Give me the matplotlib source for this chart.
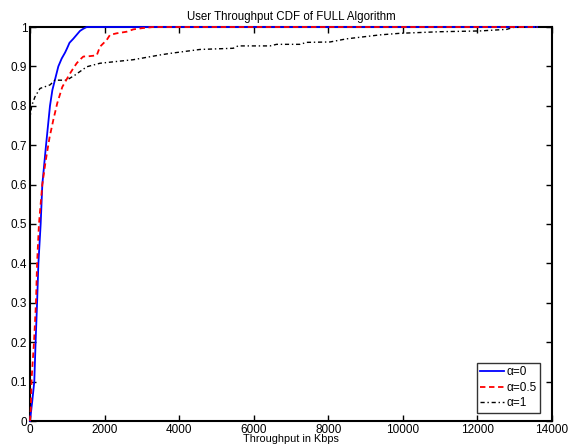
import matplotlib
matplotlib.use("Agg")
import matplotlib.pyplot as plt

plt.rcParams['font.family'] = ['Liberation Sans', 'DejaVu Sans']

# alpha = 0
x0 = [0, 60, 115, 150, 190, 225, 286, 330, 430, 536, 600, 680, 760, 850, 940, 990, 1060, 1160, 1250, 1340, 1420, 1520, 13600]
y0 = [0, 0.05, 0.10, 0.20, 0.30, 0.40, 0.50, 0.60, 0.70, 0.80, 0.84, 0.87, 0.90, 0.92, 0.935, 0.945, 0.96, 0.97, 0.98, 0.99, 0.995, 1.0, 1.0]

# alpha = 0.5
x05 = [0, 20, 45, 107, 160, 190, 240, 330, 420, 525, 625, 732, 867, 1000, 1073, 1160, 1252, 1350, 1430, 1600, 1790, 1877, 2057, 2146, 2325, 2593, 2771, 3000, 3300, 13600]
y05 = [0, 0.03, 0.11, 0.20, 0.30, 0.40, 0.50, 0.60, 0.66, 0.72, 0.764, 0.807, 0.848, 0.87, 0.882, 0.895, 0.908, 0.918, 0.925, 0.926, 0.928, 0.95, 0.967, 0.98, 0.984, 0.988, 0.994, 0.997, 1.0, 1.0]

# alpha = 1
x1 = [0, 15, 45, 134, 268, 536, 670, 983, 1207, 1520, 1877, 2771, 3486, 3754, 4559, 5450, 5580, 6436, 6615, 7240, 7420, 8046, 8493, 9387, 9923, 10996, 12069, 12785, 12964, 13600]
y1 = [0.76, 0.78, 0.80, 0.823, 0.844, 0.853, 0.865, 0.865, 0.878, 0.899, 0.908, 0.917, 0.929, 0.933, 0.943, 0.946, 0.952, 0.952, 0.956, 0.956, 0.961, 0.962, 0.970, 0.980, 0.984, 0.988, 0.990, 0.994, 0.999, 1.0]

labels = ['α=0', 'α=0.5', 'α=1']
xticks = [0, 2000, 4000, 6000, 8000, 10000, 12000, 14000]
yticks = [0, 0.1, 0.2, 0.3, 0.4, 0.5, 0.6, 0.7, 0.8, 0.9, 1]
ytick_labels = ['0', '0.1', '0.2', '0.3', '0.4', '0.5', '0.6', '0.7', '0.8', '0.9', '1']

fig = plt.figure(figsize=(5.72, 4.46), dpi=100)
ax = fig.add_axes([30/572, 25/446, 522/572, 394/446])

ax.plot(x0, y0, '-', color='#0000ff', lw=1.3, label=labels[0], zorder=3, clip_on=False)
ax.plot(x05, y05, '--', color='#ff0000', lw=1.3, dashes=(3, 2), label=labels[1], zorder=3.1, clip_on=False)
ax.plot(x1, y1, '-.', color='black', lw=1.0, dashes=(3, 2, 1, 2), label=labels[2], zorder=3, clip_on=False)

ax.set_xlim(0, 14000)
ax.set_ylim(0, 1)
ax.set_xticks(xticks)
ax.set_xticklabels([str(t) for t in xticks])
ax.set_yticks(yticks)
ax.set_yticklabels(ytick_labels)
ax.tick_params(direction='in', length=4, width=1, top=True, right=True, labelsize=8.5, pad=2)
for s in ax.spines.values():
    s.set_linewidth(1.5)

ax.set_title('User Throughput CDF of FULL Algorithm', fontsize=8.3, pad=5)
ax.set_xlabel('Throughput in Kbps', fontsize=7.8, labelpad=-1)

leg = ax.legend(loc='lower right', fontsize=8.5, frameon=True, fancybox=False,
                edgecolor='black', handlelength=2.0, borderaxespad=0.7, borderpad=0.3,
                labelspacing=0.3, handletextpad=0.2, bbox_to_anchor=(0.993, 0.0))
leg.get_frame().set_linewidth(1.0)
leg.set_zorder(5)

fig.savefig('out.png', dpi=100)
